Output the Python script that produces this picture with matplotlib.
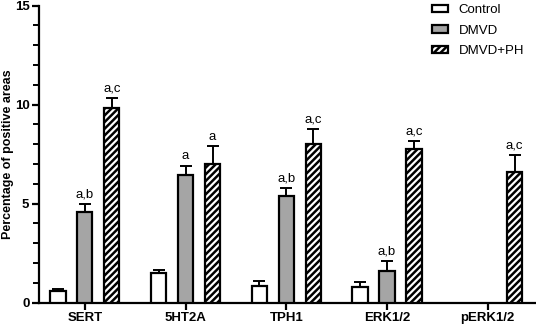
import numpy as np
import matplotlib
matplotlib.use("Agg")
import matplotlib.pyplot as plt

plt.rcParams['font.family'] = ['Liberation Sans', 'DejaVu Sans']
plt.rcParams['hatch.linewidth'] = 1.8

# data
markers = ['SERT', '5HT2A', 'TPH1', 'ERK1/2', 'pERK1/2']
groups = ['Control', 'DMVD', 'DMVD+PH']
control = [0.57, 1.48, 0.84, 0.77, np.nan]
control_err = [0.10, 0.15, 0.25, 0.27, np.nan]
dmvd = [4.55, 6.43, 5.40, 1.61, np.nan]
dmvd_err = [0.45, 0.48, 0.40, 0.50, np.nan]
dmvd_ph = [9.85, 7.02, 8.02, 7.75, 6.59]
dmvd_ph_err = [0.47, 0.87, 0.77, 0.39, 0.86]
dmvd_labels = ['a,b', 'a', 'a,b', 'a,b', '']
dmvd_ph_labels = ['a,c', 'a', 'a,c', 'a,c', 'a,c']

fig = plt.figure(figsize=(5.36, 3.24), dpi=100)
ax = fig.add_axes([0.073, 0.066, 0.927, 0.917])

x = np.arange(len(markers))
off = 0.268
w = 0.15
series = [
    (control, control_err, 'white', None, ['']*5),
    (dmvd, dmvd_err, '#a5a5a5', None, dmvd_labels),
    (dmvd_ph, dmvd_ph_err, 'white', '/////', dmvd_ph_labels),
]
for i, (vals, errs, col, hatch, labs) in enumerate(series):
    xs = x + (i - 1) * off
    vals = np.array(vals)
    errs = np.array(errs)
    ax.bar(xs, vals, width=w, color=col, edgecolor='black', linewidth=1.6,
           hatch=hatch, label=groups[i], zorder=3)
    ok = ~np.isnan(vals)
    ax.errorbar(xs[ok], vals[ok], yerr=[np.zeros(ok.sum()), errs[ok]], fmt='none',
                ecolor='black', elinewidth=1.4, capsize=4, capthick=1.4, zorder=2)
    for xi, v, e, lab in zip(xs, vals, errs, labs):
        if lab and not np.isnan(v):
            ax.annotate(lab, (xi, v + e), xytext=(0, 2.5), textcoords='offset points',
                        ha='center', va='bottom', fontsize=9.5)

ax.set_xlim(-0.455, 4.48)
ax.set_ylim(0, 15)
ax.set_yticks([0, 5, 10, 15])
ax.set_yticks(np.arange(0, 16, 1), minor=True)
ax.set_xticks(x)
ax.set_xticklabels(markers, fontweight='bold', fontsize=9.5)
for t in ax.get_yticklabels():
    t.set_fontweight('bold')
    t.set_fontsize(9.5)
ax.set_ylabel('Percentage of positive areas', fontweight='bold', fontsize=9)
ax.yaxis.set_label_coords(-0.05, 0.5)

for s in ['top', 'right']:
    ax.spines[s].set_visible(False)
for s in ['left', 'bottom']:
    ax.spines[s].set_linewidth(1.6)
ax.tick_params(axis='both', which='major', width=1.6, length=5, pad=2)
ax.tick_params(axis='y', which='minor', width=1.4, length=4)
ax.tick_params(axis='x', which='minor', bottom=False)

ax.legend(loc='upper right', bbox_to_anchor=(1.0, 1.045), frameon=False, fontsize=9.5,
          handlelength=1.2, handleheight=0.5, handletextpad=0.8, labelspacing=0.65)

fig.savefig('out.png', dpi=100)
